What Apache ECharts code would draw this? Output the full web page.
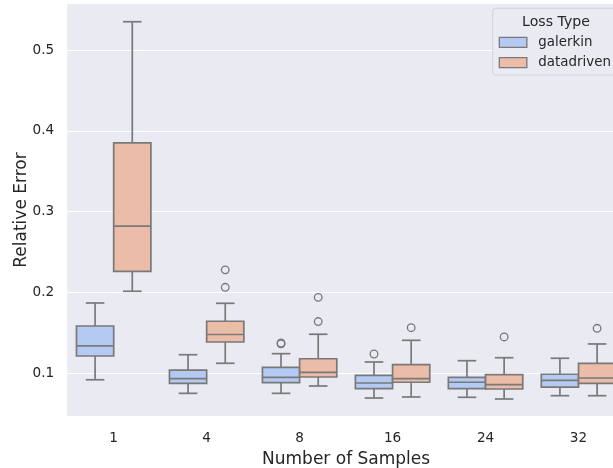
<!DOCTYPE html>
<html>
<head>
<meta charset="utf-8">
<script src="https://cdn.jsdelivr.net/npm/echarts@6/dist/echarts.min.js"></script>
<style>
html,body{margin:0;padding:0;background:#ffffff;}
#chart{width:613px;height:468px;}
</style>
</head>
<body>
<div id="chart"></div>
<script>
// ---- data ----
const categories = ['1', '4', '8', '16', '24', '32'];
const seriesNames = ['galerkin', 'datadriven'];
// [min whisker, Q1, median, Q3, max whisker]
const galerkinStats = [
  [0.092, 0.1214, 0.134, 0.1585, 0.187],
  [0.0752, 0.0876, 0.0933, 0.104, 0.123],
  [0.0752, 0.0884, 0.095, 0.1074, 0.1243],
  [0.0694, 0.081, 0.088, 0.0975, 0.114],
  [0.0703, 0.081, 0.0889, 0.095, 0.1156],
  [0.0723, 0.083, 0.0913, 0.0988, 0.1186]
];
const datadrivenStats = [
  [0.2015, 0.226, 0.282, 0.385, 0.535],
  [0.1124, 0.1387, 0.148, 0.1644, 0.1866],
  [0.0843, 0.0954, 0.1012, 0.118, 0.1483],
  [0.0707, 0.0889, 0.0933, 0.1107, 0.1408],
  [0.0682, 0.0806, 0.0859, 0.0983, 0.1193],
  [0.0723, 0.0876, 0.0942, 0.1124, 0.1363]
];
// [category index, value]
const galerkinOutliers = [[2, 0.1375], [2, 0.1365], [3, 0.1239]];
const datadrivenOutliers = [[1, 0.228], [1, 0.2064], [2, 0.194], [2, 0.164], [3, 0.1564], [4, 0.145], [5, 0.1557]];
const yTicks = [0.1, 0.2, 0.3, 0.4, 0.5];

// ---- style ----
const FONT = 'DejaVu Sans';
const TEXT = '#262626';
const EDGE = '#797979';
const COLORS = ['#b5caf3', '#ebbca7'];
const LW = 1.7;

function boxRender(side, color) {
  return function (params, api) {
    const i = api.value(0);
    const band = api.size([1, 0])[0];
    const w = band * 0.4;
    const base = api.coord([i, api.value(1)]);
    const cx = base[0] + side * w / 2;
    const yMin = base[1];
    const yQ1 = api.coord([i, api.value(2)])[1];
    const yMed = api.coord([i, api.value(3)])[1];
    const yQ3 = api.coord([i, api.value(4)])[1];
    const yMax = api.coord([i, api.value(5)])[1];
    const ls = { stroke: EDGE, lineWidth: LW };
    const cap = w / 4;
    return {
      type: 'group',
      children: [
        { type: 'line', shape: { x1: cx, y1: yQ3, x2: cx, y2: yMax }, style: ls },
        { type: 'line', shape: { x1: cx, y1: yQ1, x2: cx, y2: yMin }, style: ls },
        { type: 'line', shape: { x1: cx - cap, y1: yMax, x2: cx + cap, y2: yMax }, style: ls },
        { type: 'line', shape: { x1: cx - cap, y1: yMin, x2: cx + cap, y2: yMin }, style: ls },
        { type: 'rect', shape: { x: cx - w / 2, y: yQ3, width: w, height: yQ1 - yQ3 },
          style: { fill: color, stroke: EDGE, lineWidth: LW } },
        { type: 'line', shape: { x1: cx - w / 2, y1: yMed, x2: cx + w / 2, y2: yMed }, style: ls }
      ]
    };
  };
}
function outlierRender(side) {
  return function (params, api) {
    const i = api.value(0);
    const band = api.size([1, 0])[0];
    const w = band * 0.4;
    const p = api.coord([i, api.value(1)]);
    return {
      type: 'circle',
      shape: { cx: p[0] + side * w / 2, cy: p[1], r: 3.8 },
      style: { fill: 'none', stroke: EDGE, lineWidth: 1.3 }
    };
  };
}
function withIndex(stats) {
  return stats.map((s, i) => [i].concat(s));
}

const chart = echarts.init(document.getElementById('chart'), null, { renderer: 'canvas' });
chart.setOption({
  animation: false,
  backgroundColor: '#ffffff',
  textStyle: { fontFamily: FONT, color: TEXT },
  grid: {
    left: 67.2, right: -12, top: 3.3, bottom: 51.3,
    containLabel: false,
    outerBoundsMode: 'none',
    show: true, backgroundColor: '#eaeaf2', borderWidth: 0
  },
  legend: {
    orient: 'vertical',
    left: 492.7, top: 8.3,
    padding: [26, 12, 4.3, 6],
    itemWidth: 27.5, itemHeight: 10, itemGap: 4.4,
    icon: 'rect',
    backgroundColor: '#eaeaf2',
    borderColor: '#d3d3da', borderWidth: 1, borderRadius: 3,
    textStyle: { fontFamily: FONT, fontSize: 13.4, color: TEXT, lineHeight: 16, padding: [0, 0, 0, 6.5] },
    data: [
      { name: seriesNames[0], itemStyle: { color: COLORS[0], borderColor: EDGE, borderWidth: 1.3 } },
      { name: seriesNames[1], itemStyle: { color: COLORS[1], borderColor: EDGE, borderWidth: 1.3 } }
    ]
  },
  graphic: [{
    type: 'text', z: 100, x: 556, y: 22,
    style: { text: 'Loss Type', fontFamily: FONT, fontSize: 14.1, fill: TEXT, align: 'center', verticalAlign: 'middle' }
  }],
  xAxis: {
    type: 'category',
    data: categories,
    name: 'Number of Samples',
    nameLocation: 'middle',
    nameGap: 33,
    nameTextStyle: { fontFamily: FONT, fontSize: 17, color: TEXT, verticalAlign: 'top' },
    axisLine: { show: false },
    axisTick: { show: false },
    axisLabel: { fontFamily: FONT, fontSize: 13.6, color: TEXT, margin: 15 },
    splitLine: { show: false }
  },
  yAxis: {
    type: 'value',
    min: 0.0463, max: 0.5578,
    splitNumber: 5,
    name: 'Relative Error',
    nameLocation: 'middle',
    nameMoveOverlap: false,
    nameGap: 37,
    nameTextStyle: { fontFamily: FONT, fontSize: 17, color: TEXT },
    axisLine: { show: false },
    axisTick: { show: false },
    axisLabel: {
      fontFamily: FONT, fontSize: 13.6, color: TEXT, margin: 13,
      showMinLabel: false, showMaxLabel: false,
      formatter: function (v) { return yTicks.some(t => Math.abs(t - v) < 1e-9) ? String(v) : ''; }
    },
    splitLine: { show: true, lineStyle: { color: '#ffffff', width: 1.2 } }
  },
  series: [
    { name: seriesNames[0], type: 'custom', renderItem: boxRender(-1, COLORS[0]),
      itemStyle: { color: COLORS[0], borderColor: EDGE },
      encode: { x: 0, y: [1, 2, 3, 4, 5] }, data: withIndex(galerkinStats), z: 3 },
    { name: seriesNames[1], type: 'custom', renderItem: boxRender(1, COLORS[1]),
      itemStyle: { color: COLORS[1], borderColor: EDGE },
      encode: { x: 0, y: [1, 2, 3, 4, 5] }, data: withIndex(datadrivenStats), z: 3 },
    { name: 'galerkin outliers', type: 'custom', renderItem: outlierRender(-1),
      encode: { x: 0, y: 1 }, data: galerkinOutliers, z: 4 },
    { name: 'datadriven outliers', type: 'custom', renderItem: outlierRender(1),
      encode: { x: 0, y: 1 }, data: datadrivenOutliers, z: 4 }
  ]
});
</script>
</body>
</html>
